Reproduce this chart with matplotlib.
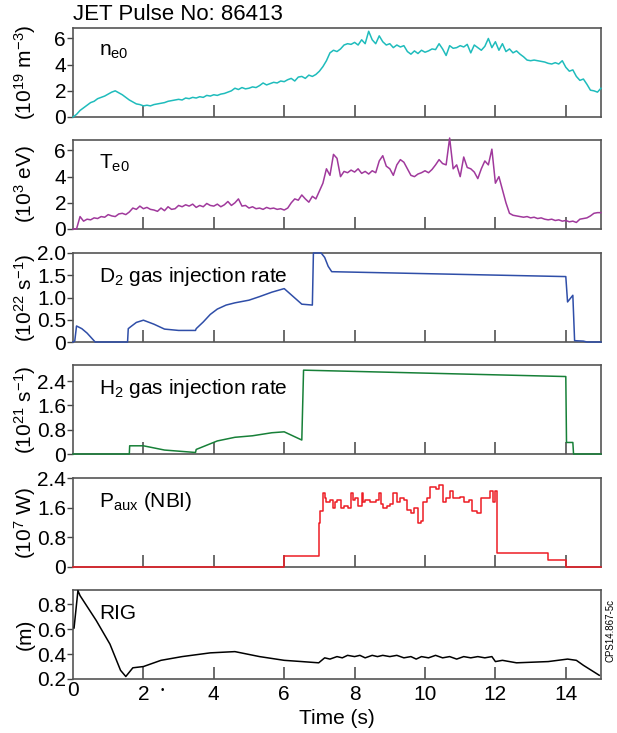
import numpy as np
import matplotlib
matplotlib.use("Agg")
import matplotlib.pyplot as plt

plt.rcParams['font.family'] = ['Liberation Sans', 'DejaVu Sans']
plt.rcParams['mathtext.default'] = 'regular'

# central density ne0 (1e19 m^-3), sampled every 0.1 s from 0 to 15 s
ne0 = [0.0, 0.2, 0.5, 0.7, 0.9, 1.1, 1.2, 1.4, 1.5, 1.6,
       1.75, 1.9, 2.0, 1.85, 1.7, 1.5, 1.3, 1.15, 1.0, 0.95,
       0.85, 0.9, 0.85, 0.95, 1.0, 1.05, 1.1, 1.2, 1.25, 1.3,
       1.35, 1.3, 1.45, 1.4, 1.5, 1.45, 1.55, 1.5, 1.65, 1.6,
       1.7, 1.65, 1.75, 1.8, 1.9, 2.0, 2.2, 2.1, 2.25, 2.15,
       2.2, 2.3, 2.25, 2.4, 2.6, 2.45, 2.55, 2.65, 2.6, 2.75,
       2.7, 2.85, 2.95, 2.75, 3.05, 3.1, 2.95, 3.2, 3.1, 3.25,
       3.5, 3.85, 4.3, 4.9, 5.1, 5.0, 5.2, 5.5, 5.6, 5.55,
       5.7, 5.5, 5.9, 5.6, 6.55, 5.9, 5.6, 6.2, 5.75, 5.5,
       5.6, 5.3, 5.5, 5.35, 5.45, 5.0, 4.8, 5.05, 4.85, 5.1,
       4.95, 5.05, 5.2, 5.15, 5.6, 5.2, 4.7, 5.45, 5.25, 5.3,
       5.45, 5.35, 5.55, 4.9, 5.5, 5.3, 5.1, 5.4, 6.0, 5.3,
       5.75, 5.1, 5.6, 5.0, 5.2, 4.9, 5.05, 4.8, 4.6, 4.35,
       4.3, 4.35, 4.3, 4.25, 4.2, 4.1, 4.05, 4.15, 4.05, 4.3,
       3.8, 3.5, 3.6, 3.1, 2.8, 2.9, 2.5, 2.05, 2.0, 1.9,
       2.2]

# central electron temperature Te0 (keV), every 0.1 s
te0 = [0.0, 0.0, 0.95, 0.6, 0.75, 0.7, 0.85, 0.8, 0.95, 0.9,
       1.1, 1.0, 0.95, 1.15, 1.2, 1.1, 1.3, 1.6, 1.5, 1.75,
       1.55, 1.65, 1.5, 1.45, 1.35, 1.6, 1.4, 1.7, 1.5, 1.55,
       1.8, 1.7, 1.85, 1.75, 1.9, 1.65, 1.8, 1.7, 1.95, 1.8,
       1.75, 1.9, 1.7, 1.85, 2.1, 1.8, 2.0, 2.3, 1.75, 1.8,
       1.6, 1.7, 1.55, 1.6, 1.5, 1.65, 1.55, 1.6, 1.5, 1.55,
       1.45, 1.6, 2.0, 2.3, 2.2, 2.6, 2.3, 2.05, 2.5, 2.3,
       2.9, 3.5, 4.6, 4.1, 5.7, 5.4, 4.0, 4.4, 4.3, 4.5,
       4.35, 4.6, 4.25, 4.4, 4.2, 4.45, 4.3, 5.2, 5.6, 4.8,
       4.6, 4.1, 4.9, 5.3, 5.1, 4.6, 4.1, 4.0, 4.2, 4.3,
       4.45, 4.3, 4.55, 4.9, 5.3, 5.0, 4.9, 6.95, 4.6, 4.9,
       4.0, 5.5, 4.7, 4.6, 4.35, 3.85, 4.6, 5.2, 4.9, 6.1,
       3.5, 4.0, 3.0, 2.0, 1.2, 1.05, 1.0, 0.95, 0.9, 0.95,
       0.85, 0.9, 0.8, 0.85, 0.75, 0.7, 0.75, 0.65, 0.7, 0.6,
       0.65, 0.55, 0.6, 0.5, 0.75, 0.8, 0.85, 1.0, 1.2, 1.25,
       1.25]

# D2 gas injection rate (1e22 s^-1)
d2_t = [0, 0.05, 0.1, 0.25, 0.4, 0.63, 1.55, 1.57, 1.65, 1.8, 2.0, 2.3, 2.6,
        3.0, 3.48, 3.5, 3.7, 3.9, 4.1, 4.35, 4.6, 5.0, 5.3, 5.65, 6.0, 6.5,
        6.8, 6.83, 7.05, 7.15, 7.25, 7.35, 14.0, 14.05, 14.15, 14.2, 14.25,
        14.5, 14.6, 15]
d2_v = [0, 0.02, 0.36, 0.3, 0.2, 0, 0, 0.3, 0.35, 0.44, 0.49, 0.4, 0.29,
        0.26, 0.26, 0.3, 0.45, 0.62, 0.74, 0.83, 0.88, 0.94, 1.02, 1.12, 1.2,
        0.85, 0.83, 2.0, 2.0, 1.9, 1.7, 1.58, 1.47, 0.9, 1.0, 1.05, 0.03,
        0.02, 0, 0]

# H2 gas injection rate (1e21 s^-1)
h2_t = [0, 1.6, 1.61, 2.0, 2.6, 3.48, 3.5, 4.1, 4.6, 5.1, 5.65, 6.0, 6.5,
        6.55, 14.0, 14.02, 14.2, 14.22, 15]
h2_v = [0, 0, 0.27, 0.27, 0.13, 0.05, 0.15, 0.43, 0.55, 0.6, 0.7, 0.73,
        0.46, 2.76, 2.55, 0.38, 0.38, 0, 0]

# NBI power (1e7 W), step signal
pnbi_t = [0, 6.0, 6.98, 7.03, 7.1, 7.15, 7.2, 7.3, 7.4, 7.45, 7.5, 7.6, 7.7,
          7.8, 7.9, 7.95, 8.0, 8.1, 8.2, 8.25, 8.3, 8.45, 8.6, 8.7, 8.75, 8.8,
          8.93, 9.0, 9.1, 9.2, 9.3, 9.4, 9.5, 9.6, 9.7, 9.8, 9.9, 9.95, 10.05,
          10.15, 10.3, 10.4, 10.5, 10.6, 10.7, 10.8, 10.9, 11.0, 11.1, 11.24,
          11.34, 11.48, 11.6, 11.75, 11.84, 11.93, 11.98, 12.05, 13.5, 14.0,
          15.0]
pnbi_v = [0, 0.3, 1.2, 1.5, 2.0, 1.85, 1.75, 1.8, 1.6, 1.75, 1.8, 1.6, 1.65,
          1.6, 2.0, 1.8, 1.85, 1.65, 2.0, 1.75, 1.8, 1.75, 1.8, 2.0, 1.7, 1.6,
          1.65, 1.7, 2.0, 1.75, 1.85, 1.8, 1.55, 1.45, 1.6, 1.2, 1.25, 1.75,
          1.85, 2.15, 2.1, 2.2, 1.75, 1.85, 2.05, 1.85, 1.85, 1.9, 1.75, 1.8,
          1.5, 1.45, 1.85, 1.85, 2.05, 1.75, 2.05, 0.38, 0.19, 0.0, 0.0]

# RIG (m)
rig_t = [0.03, 0.14, 0.2, 0.66, 1.05, 1.35, 1.5, 1.7, 2.0, 2.3, 2.5, 3.1, 3.9,
         4.6, 5.3, 6.0, 6.5, 6.98, 7.15, 7.3, 7.5, 7.65, 7.8, 8.0, 8.15, 8.3,
         8.5, 8.65, 8.8, 9.0, 9.2, 9.4, 9.6, 9.75, 9.9, 10.1, 10.3, 10.5,
         10.7, 10.9, 11.1, 11.3, 11.5, 11.7, 11.9, 12.0, 12.2, 12.6, 13.5,
         14.05, 14.3, 14.5, 14.95]
rig_v = [0.61, 0.91, 0.87, 0.67, 0.48, 0.27, 0.22, 0.29, 0.3, 0.33, 0.35,
         0.38, 0.41, 0.42, 0.38, 0.35, 0.34, 0.33, 0.37, 0.36, 0.38, 0.37,
         0.39, 0.38, 0.39, 0.37, 0.39, 0.38, 0.39, 0.38, 0.39, 0.37, 0.38,
         0.36, 0.38, 0.37, 0.39, 0.37, 0.38, 0.36, 0.38, 0.37, 0.38, 0.37,
         0.38, 0.34, 0.35, 0.33, 0.34, 0.36, 0.35, 0.31, 0.23]

t_grid = np.linspace(0, 15, len(ne0))
t_grid2 = np.linspace(0, 15, len(te0))

fig = plt.figure(figsize=(6.17, 7.33), dpi=100)
W, H = 617.0, 733.0
left, right = 73 / W, 601 / W
tops = [28, 140, 253, 365, 478, 590]
ph = 89
fs = 15

panels = [
    dict(x=t_grid, y=ne0, c='#1fbcbc', ylim=(0, 6.8), ticks=[0, 2, 4, 6],
         tl=['0', '2', '4', '6'], name=r'n$_{e0}$', unit=r'(10$^{19}$ m$^{-3}$)'),
    dict(x=t_grid2, y=te0, c='#a0399c', ylim=(0, 6.8), ticks=[0, 2, 4, 6],
         tl=['0', '2', '4', '6'], name=r'T$_{e0}$', unit=r'(10$^{3}$ eV)'),
    dict(x=d2_t, y=d2_v, c='#2f4ea8', ylim=(0, 2.0), ticks=[0, 0.5, 1.0, 1.5, 2.0],
         tl=['0', '0.5', '1.0', '1.5', '2.0'], name=r'D$_2$ gas injection rate',
         unit=r'(10$^{22}$ s$^{-1}$)'),
    dict(x=h2_t, y=h2_v, c='#178038', ylim=(0, 2.93), ticks=[0, 0.8, 1.6, 2.4],
         tl=['0', '0.8', '1.6', '2.4'], name=r'H$_2$ gas injection rate',
         unit=r'(10$^{21}$ s$^{-1}$)'),
    dict(x=pnbi_t, y=pnbi_v, c='#ee1c24', ylim=(0, 2.4), ticks=[0, 0.8, 1.6, 2.4],
         tl=['0', '0.8', '1.6', '2.4'], name=r'P$_{aux}$ (NBI)', unit=r'(10$^{7}$ W)',
         steps=True),
    dict(x=rig_t, y=rig_v, c='black', ylim=(0.2, 0.915), ticks=[0.2, 0.4, 0.6, 0.8],
         tl=['0.2', '0.4', '0.6', '0.8'], name='RIG', unit='(m)'),
]

for i, p in enumerate(panels):
    top = tops[i]
    ax = fig.add_axes([left, 1 - (top + ph) / H, right - left, ph / H])
    ds = 'steps-post' if p.get('steps') else 'default'
    ax.plot(p['x'], p['y'], color=p['c'], lw=1.1, drawstyle=ds,
            zorder=5, clip_on=False)
    ax.set_xlim(0, 15)
    ax.set_ylim(*p['ylim'])
    ax.set_yticks(p['ticks'])
    ax.set_yticklabels(p['tl'])
    ax.set_xticks([2, 4, 6, 8, 10, 12, 14])
    ax.tick_params(axis='x', direction='in', length=9, width=1.1, color='#444444',
                   labelsize=fs, labelbottom=(i == 5), pad=4)
    ax.tick_params(axis='y', direction='out', length=4, width=1.0, color='#444444',
                   labelsize=fs, pad=1)
    for s in ax.spines.values():
        s.set_color('#555555')
        s.set_linewidth(1.2)
    ax.text(0.05, 0.74, p['name'], transform=ax.transAxes, fontsize=fs,
            ha='left', va='center')
    fig.text(25 / W, 1 - (top + ph / 2) / H, p['unit'], rotation=90,
             fontsize=fs, ha='center', va='center')
    if i == 5:
        ax.set_xticklabels(['2', '4', '6', '8', '10', '12', '14'])
        fig.text(73 / W, 1 - 690 / H, '0', fontsize=fs, ha='center', va='center')

fig.text(73 / W, 1 - 15 / H, 'JET Pulse No: 86413', fontsize=16,
         ha='left', va='center')
fig.text(337 / W, 1 - 718 / H, 'Time (s)', fontsize=fs, ha='center', va='center')
fig.text(162 / W, 1 - 690 / H, '\u2022', fontsize=7, ha='center', va='center')
fig.text(611 / W, 1 - 630 / H, 'CPS14.867-5c', rotation=90, fontsize=7,
         ha='center', va='center')

fig.savefig('out.png', dpi=100)
